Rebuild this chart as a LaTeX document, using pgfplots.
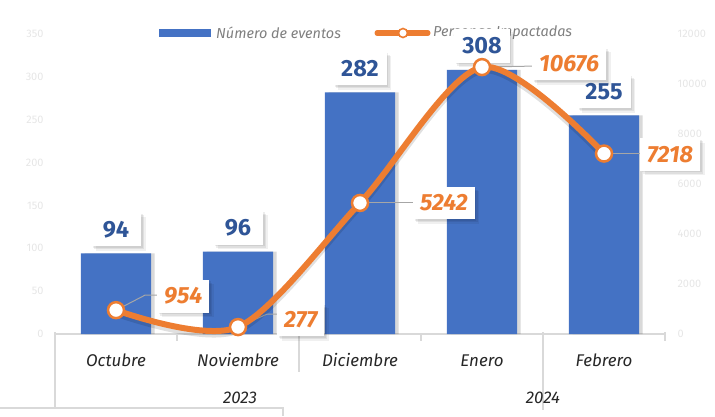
\documentclass[border=0pt]{standalone}
\usepackage{fontspec}
\setmainfont{Fira Sans}
\usepackage{pgfplots}
\pgfplotsset{compat=1.18}
\definecolor{barblue}{HTML}{4472C4}
\definecolor{lineorange}{HTML}{ED7D31}
\definecolor{lblblue}{HTML}{2F5597}
\definecolor{leggray}{HTML}{7F7F7F}
\definecolor{tickgray}{HTML}{E6E6E6}
\definecolor{axisgray}{HTML}{D9D9D9}
\definecolor{leadgray}{HTML}{A6A6A6}
\definecolor{cattext}{HTML}{262626}
\tikzset{
  boxshadow/.style={
    preaction={fill=black, fill opacity=0.07, transform canvas={xshift=1.5bp,yshift=-1.5bp}},
    preaction={fill=black, fill opacity=0.07, transform canvas={xshift=3bp,yshift=-3bp}},
    preaction={fill=black, fill opacity=0.06, transform canvas={xshift=4.5bp,yshift=-4.5bp}}},
  lblO/.style={fill=white, boxshadow, text=lineorange, font=\fontsize{23.5}{23.5}\selectfont\bfseries\itshape, inner xsep=7bp, inner ysep=8bp, anchor=west},
  leader/.style={draw=leadgray, line width=1bp},
}
\begin{document}
\begin{tikzpicture}[x=1bp,y=1bp]
\useasboundingbox (0,0) rectangle (715,416);
% category axis decoration
\draw[axisgray, line width=1.6bp] (55,82) -- (665,82);
\draw[axisgray, line width=1.6bp] (55,84) -- (55,8);
\draw[axisgray, line width=1.6bp] (177,82) -- (177,75);
\draw[axisgray, line width=1.6bp] (299,84) -- (299,44);
\draw[axisgray, line width=1.6bp] (421,82) -- (421,75);
\draw[axisgray, line width=1.6bp] (543,84) -- (543,6);
\draw[axisgray, line width=1.6bp] (665,84) -- (665,75);
\draw[axisgray, line width=1.2bp] (0,8) -- (283,8) -- (283,0);
% legend
\fill[barblue] (159,379) rectangle (211,387);
\node[anchor=west, text=leggray, font=\fontsize{14.5}{14.5}\selectfont\itshape, inner sep=0pt] at (216,383) {Número de eventos};
\draw[lineorange, line width=5bp, line cap=round] (377,383) -- (428,383);
\draw[lineorange, fill=white, line width=1.6bp] (403,383) circle (4.5bp);
\node[anchor=west, text=leggray, font=\fontsize{14.5}{14.5}\selectfont\itshape, inner sep=0pt] at (433,383) {Personas Impactadas};
% years
\node[anchor=base, text=cattext, font=\fontsize{17}{17}\selectfont\itshape] at (240,13) {2023};
\node[anchor=base, text=cattext, font=\fontsize{17}{17}\selectfont\itshape] at (543,13) {2024};
\begin{axis}[
  at={(55bp,82bp)}, anchor=south west, scale only axis,
  width=610bp, height=300bp,
  xmin=-0.5, xmax=4.5, ymin=0, ymax=350,
  axis line style={draw=none},
  major tick length=0pt,
  ytick={0,50,...,350},
  xtick={0,1,2,3,4},
  xticklabels={Octubre,Noviembre,Diciembre,Enero,Febrero},
  xticklabel style={anchor=base, yshift=-32bp, text=cattext, font=\fontsize{17}{17}\selectfont\itshape},
  yticklabel style={anchor=east, xshift=-8bp, text=tickgray, font=\fontsize{11}{11}\selectfont},
  /pgf/number format/assume math mode=true,
  clip=false,
]
% bar shadow
\addplot[ybar, bar width=0.574, bar shift=0.03, fill=black, fill opacity=0.15, draw=none]
  coordinates {(0,94) (1,96) (2,282) (3,308) (4,255)};
\addplot[ybar, bar width=0.574, bar shift=0, fill=barblue, draw=none,
  nodes near coords,
  every node near coord/.append style={fill=white, fill opacity=1, text opacity=1, boxshadow, text=lblblue,
    font=\fontsize{23.5}{23.5}\selectfont\bfseries, inner xsep=8bp, inner ysep=8.5bp,
    minimum width=50bp, anchor=south, yshift=7bp}]
  coordinates {(0,94) (1,96) (2,282) (3,308) (4,255)};
\end{axis}
\begin{axis}[
  at={(55bp,82bp)}, anchor=south west, scale only axis,
  width=610bp, height=300bp,
  xmin=-0.5, xmax=4.5, ymin=0, ymax=12000,
  axis line style={draw=none},
  major tick length=0pt,
  axis y line*=right,
  axis x line=none,
  ytick={0,2000,...,12000},
  yticklabel style={anchor=west, xshift=9bp, text=tickgray, font=\fontsize{11}{11}\selectfont},
  scaled ticks=false,
  /pgf/number format/1000 sep={},
  /pgf/number format/assume math mode=true,
  clip=false,
]
\draw[leader] (axis cs:0,954) -- ++(29bp,15bp) -- ++(12bp,0bp);
\draw[leader] (axis cs:1,277) -- ++(29bp,13bp) -- ++(10bp,0bp);
\draw[leader] (axis cs:2,5242) -- ++(53bp,0bp);
\draw[leader] (axis cs:3,10676) -- ++(50bp,1bp);
\draw[leader] (axis cs:4,7218) -- ++(36bp,0bp);
% soft shadow of the line
\addplot[smooth, draw=black, draw opacity=0.12, line width=7bp, yshift=-3bp, forget plot]
  coordinates {(0,954) (1,277) (2,5242) (3,10676) (4,7218)};
\addplot[smooth, draw=lineorange, line width=6bp,
  mark=*, mark size=8bp,
  mark options={fill=white, draw=lineorange, line width=2.5bp}]
  coordinates {(0,954) (1,277) (2,5242) (3,10676) (4,7218)};
\node[lblO, xshift=41bp, yshift=14bp] at (axis cs:0,954) {954};
\node[lblO, xshift=39bp, yshift=7bp] at (axis cs:1,277) {277};
\node[lblO, xshift=53bp, yshift=0bp] at (axis cs:2,5242) {5242};
\node[lblO, xshift=50bp, yshift=3bp] at (axis cs:3,10676) {10676};
\node[lblO, xshift=36bp, yshift=-1bp] at (axis cs:4,7218) {7218};
\end{axis}
\end{tikzpicture}
\end{document}
